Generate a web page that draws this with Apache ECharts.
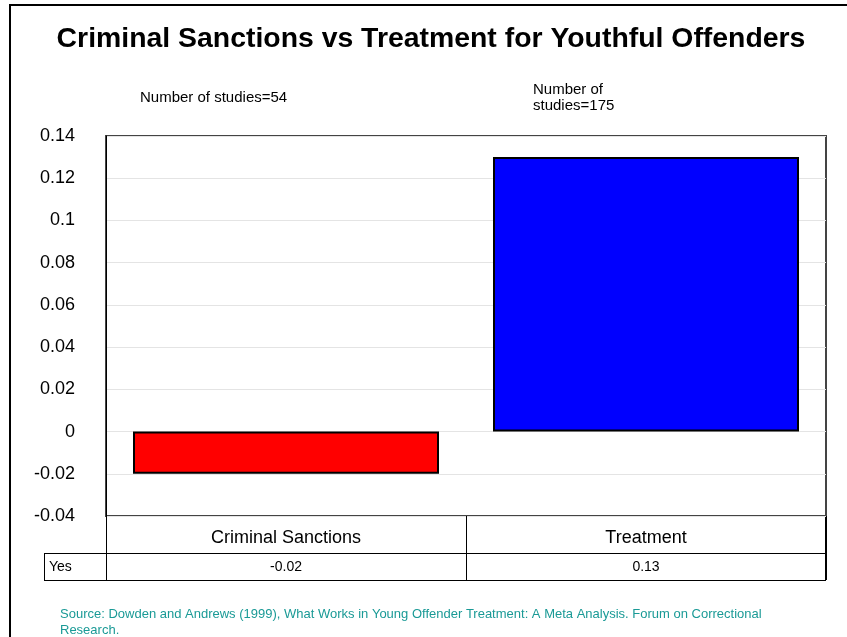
<!DOCTYPE html>
<html>
<head>
<meta charset="utf-8">
<script src="https://cdn.jsdelivr.net/npm/echarts@6/dist/echarts.min.js"></script>
<style>
  html, body { margin: 0; padding: 0; background: #fff; }
  #chart { width: 847px; height: 637px; }
</style>
</head>
<body>
<div id="chart"></div>
<script>
// Mean effect size on recidivism by intervention type
const categories = ['Criminal Sanctions', 'Treatment'];
const effectSizes = [-0.02, 0.13];
const barColors = ['#ff0000', '#0000ff'];
const studyNotes = ['Number of studies=54', 'Number of\nstudies=175'];
const tableRowLabel = 'Yes';
const yTicks = { min: -0.04, max: 0.14, step: 0.02 };
const sourceNote = 'Source: Dowden and Andrews (1999), What Works in Young Offender Treatment: A Meta Analysis. Forum on Correctional\nResearch.';

const FONT = '"Liberation Sans", Arial, sans-serif';
const chart = echarts.init(document.getElementById('chart'), null, { renderer: 'canvas' });

const option = {
  backgroundColor: '#ffffff',
  animation: false,
  textStyle: { fontFamily: FONT },
  title: {
    text: 'Criminal Sanctions vs Treatment for Youthful Offenders',
    left: 426,
    textAlign: 'center',
    top: 20,
    textStyle: { fontFamily: FONT, fontSize: 28.4, fontWeight: 'bold', color: '#000' }
  },
  grid: {
    left: 106, top: 136, width: 720, height: 380,
    show: true, borderColor: '#444', borderWidth: 2, backgroundColor: '#fff'
  },
  xAxis: [
    {
      type: 'category',
      data: categories,
      position: 'bottom',
      axisLine: { show: false, onZero: false },
      axisTick: { show: true, length: 64, lineStyle: { color: '#000', width: 1 } },
      axisLabel: { fontSize: 18, color: '#000', margin: 13, fontFamily: FONT },
      splitLine: { show: false }
    },
    {
      type: 'category',
      data: effectSizes.map(v => String(v)),
      position: 'bottom',
      offset: 37,
      axisLine: { show: false, onZero: false },
      axisTick: { show: false },
      axisLabel: { fontSize: 14, color: '#000', margin: 7, fontFamily: FONT },
      splitLine: { show: false }
    }
  ],
  yAxis: {
    type: 'value',
    min: yTicks.min,
    max: yTicks.max,
    interval: yTicks.step,
    axisLine: { show: true, lineStyle: { color: '#000', width: 1 } },
    axisTick: { show: false },
    axisLabel: { fontSize: 18, color: '#000', margin: 31, fontFamily: FONT,
      formatter: v => String(Math.round(v * 100) / 100) },
    splitLine: { show: true, lineStyle: { color: '#e4e4e4', width: 1 } }
  },
  series: [{
    type: 'bar',
    xAxisIndex: 0,
    barWidth: '85%',
    data: effectSizes.map((v, i) => ({
      value: v,
      itemStyle: { color: barColors[i], borderColor: '#000', borderWidth: 2 }
    }))
  }],
  graphic: [
    // outer frame
    { type: 'rect', shape: { x: 10, y: 5, width: 900, height: 700 },
      style: { fill: 'none', stroke: '#000', lineWidth: 2 }, silent: true },
    // data table row
    { type: 'line', shape: { x1: 44, y1: 553.5, x2: 826, y2: 553.5 },
      style: { stroke: '#000', lineWidth: 1 } },
    { type: 'line', shape: { x1: 44, y1: 580.5, x2: 826, y2: 580.5 },
      style: { stroke: '#000', lineWidth: 1 } },
    { type: 'line', shape: { x1: 44.5, y1: 553, x2: 44.5, y2: 581 },
      style: { stroke: '#000', lineWidth: 1 } },
    { type: 'line', shape: { x1: 825.5, y1: 516, x2: 825.5, y2: 581 },
      style: { stroke: '#000', lineWidth: 1 } },
    { type: 'text', x: 49, y: 567,
      style: { text: tableRowLabel, fontSize: 14, fontFamily: FONT, fill: '#000', verticalAlign: 'middle' } },
    // study counts
    { type: 'text', x: 140, y: 90,
      style: { text: studyNotes[0], fontSize: 15, fontFamily: FONT, fill: '#000', lineHeight: 16 } },
    { type: 'text', x: 533, y: 82,
      style: { text: studyNotes[1], fontSize: 15, fontFamily: FONT, fill: '#000', lineHeight: 16 } },
    // source note
    { type: 'text', x: 60, y: 606,
      style: { text: sourceNote, fontSize: 13, fontFamily: FONT, fill: '#1a9a96', lineHeight: 16 } }
  ]
};

chart.setOption(option);
</script>
</body>
</html>
